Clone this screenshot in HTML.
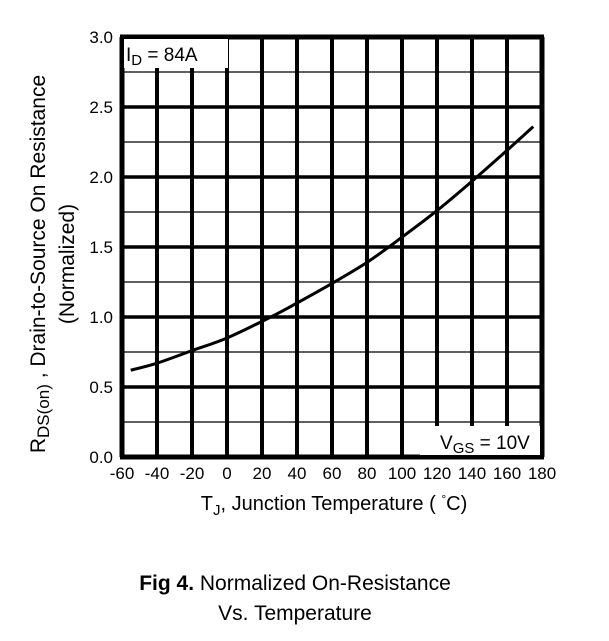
<!DOCTYPE html>
<html><head><meta charset="utf-8"><style>
body{margin:0;background:#fff;width:609px;height:636px;overflow:hidden}
svg text{font-family:"Liberation Sans",Arial,sans-serif;fill:#000}
</style></head><body>
<svg width="609" height="636">
<g id="grid"></g>
<g id="labels"></g>
<path id="curve" fill="none" stroke="#000" stroke-width="3"/>
<rect x="124" y="39" width="104" height="29" fill="#fff"/>
<text x="126" y="61" font-size="19">I<tspan font-size="15" dy="4">D</tspan><tspan dy="-4"> = 84A</tspan></text>
<rect x="420" y="426" width="120" height="29" fill="#fff"/>
<text x="440" y="449" font-size="19">V<tspan font-size="15" dy="4">GS</tspan><tspan dy="-4"> = 10V</tspan></text>
<text x="334" y="510" font-size="20" text-anchor="middle">T<tspan font-size="15" dy="5">J</tspan><tspan dy="-5">, Junction Temperature  ( </tspan><tspan font-size="12" dy="-7">°</tspan><tspan dy="7">C)</tspan></text>
<g transform="translate(45,264) rotate(-90)">
<text x="0" y="0" font-size="21" text-anchor="middle">R<tspan font-size="17" dy="4">DS(on)</tspan><tspan dy="-4"> ,  Drain-to-Source On Resistance</tspan></text>
<text x="0" y="29" font-size="21" text-anchor="middle">(Normalized)</text>
</g>
<text x="295" y="590" font-size="21" text-anchor="middle"><tspan font-weight="bold">Fig 4.</tspan>  Normalized On-Resistance</text>
<text x="295" y="620" font-size="21" text-anchor="middle">Vs. Temperature</text>
</svg>
<script>
const xTicks=[-60,-40,-20,0,20,40,60,80,100,120,140,160,180];
const yTicks=[0.0,0.5,1.0,1.5,2.0,2.5,3.0];
const temps=[-55,-40,-20,0,25,40,60,80,100,120,140,160,175];
const rds=[0.62,0.67,0.76,0.85,1.0,1.1,1.24,1.39,1.57,1.76,1.97,2.19,2.36];
const L=122,R=542,T=37,B=457;
const xs=v=>L+(v+60)/240*(R-L);
const ys=v=>B-v/3*(B-T);
const NS='http://www.w3.org/2000/svg';
const grid=document.getElementById('grid'),lab=document.getElementById('labels');
function line(x1,y1,x2,y2,w,name){const l=document.createElementNS(NS,'line');
l.setAttribute('x1',x1);l.setAttribute('y1',y1);l.setAttribute('x2',x2);l.setAttribute('y2',y2);
l.setAttribute('stroke','#000');l.setAttribute('stroke-width',w);


grid.appendChild(l);}
for(let i=0;i<yTicks.length-1;i++){const y=ys(yTicks[i]+0.25);line(L,y,R,y,1.3,'minor-gridline');}
yTicks.forEach(v=>{line(L,ys(v),R,ys(v),3.5,'major-gridline');
const t=document.createElementNS(NS,'text');t.setAttribute('x',L-9);t.setAttribute('y',ys(v)+6);
t.setAttribute('text-anchor','end');t.setAttribute('font-size','17');t.textContent=v.toFixed(1);


lab.appendChild(t);});
xTicks.forEach(v=>{line(xs(v),T,xs(v),B,(v==-60||v==180)?5:4,'vertical-gridline');
const t=document.createElementNS(NS,'text');t.setAttribute('x',xs(v));t.setAttribute('y',B+22);
t.setAttribute('text-anchor','middle');t.setAttribute('font-size','17');t.textContent=v;


lab.appendChild(t);});
line(L-2,T,R+2,T,5,'plot-border-top');line(L-2,B,R+2,B,5,'plot-border-bottom');
const pts=temps.map((t,i)=>[xs(t),ys(rds[i])]);
let d='M'+pts[0].join(',');
for(let i=1;i<pts.length;i++){const p0=pts[i-2]||pts[i-1],p1=pts[i-1],p2=pts[i],p3=pts[i+1]||p2;
d+=` C${p1[0]+(p2[0]-p0[0])/6},${p1[1]+(p2[1]-p0[1])/6} ${p2[0]-(p3[0]-p1[0])/6},${p2[1]-(p3[1]-p1[1])/6} ${p2[0]},${p2[1]}`;}
document.getElementById('curve').setAttribute('d',d);
</script>
</body></html>
